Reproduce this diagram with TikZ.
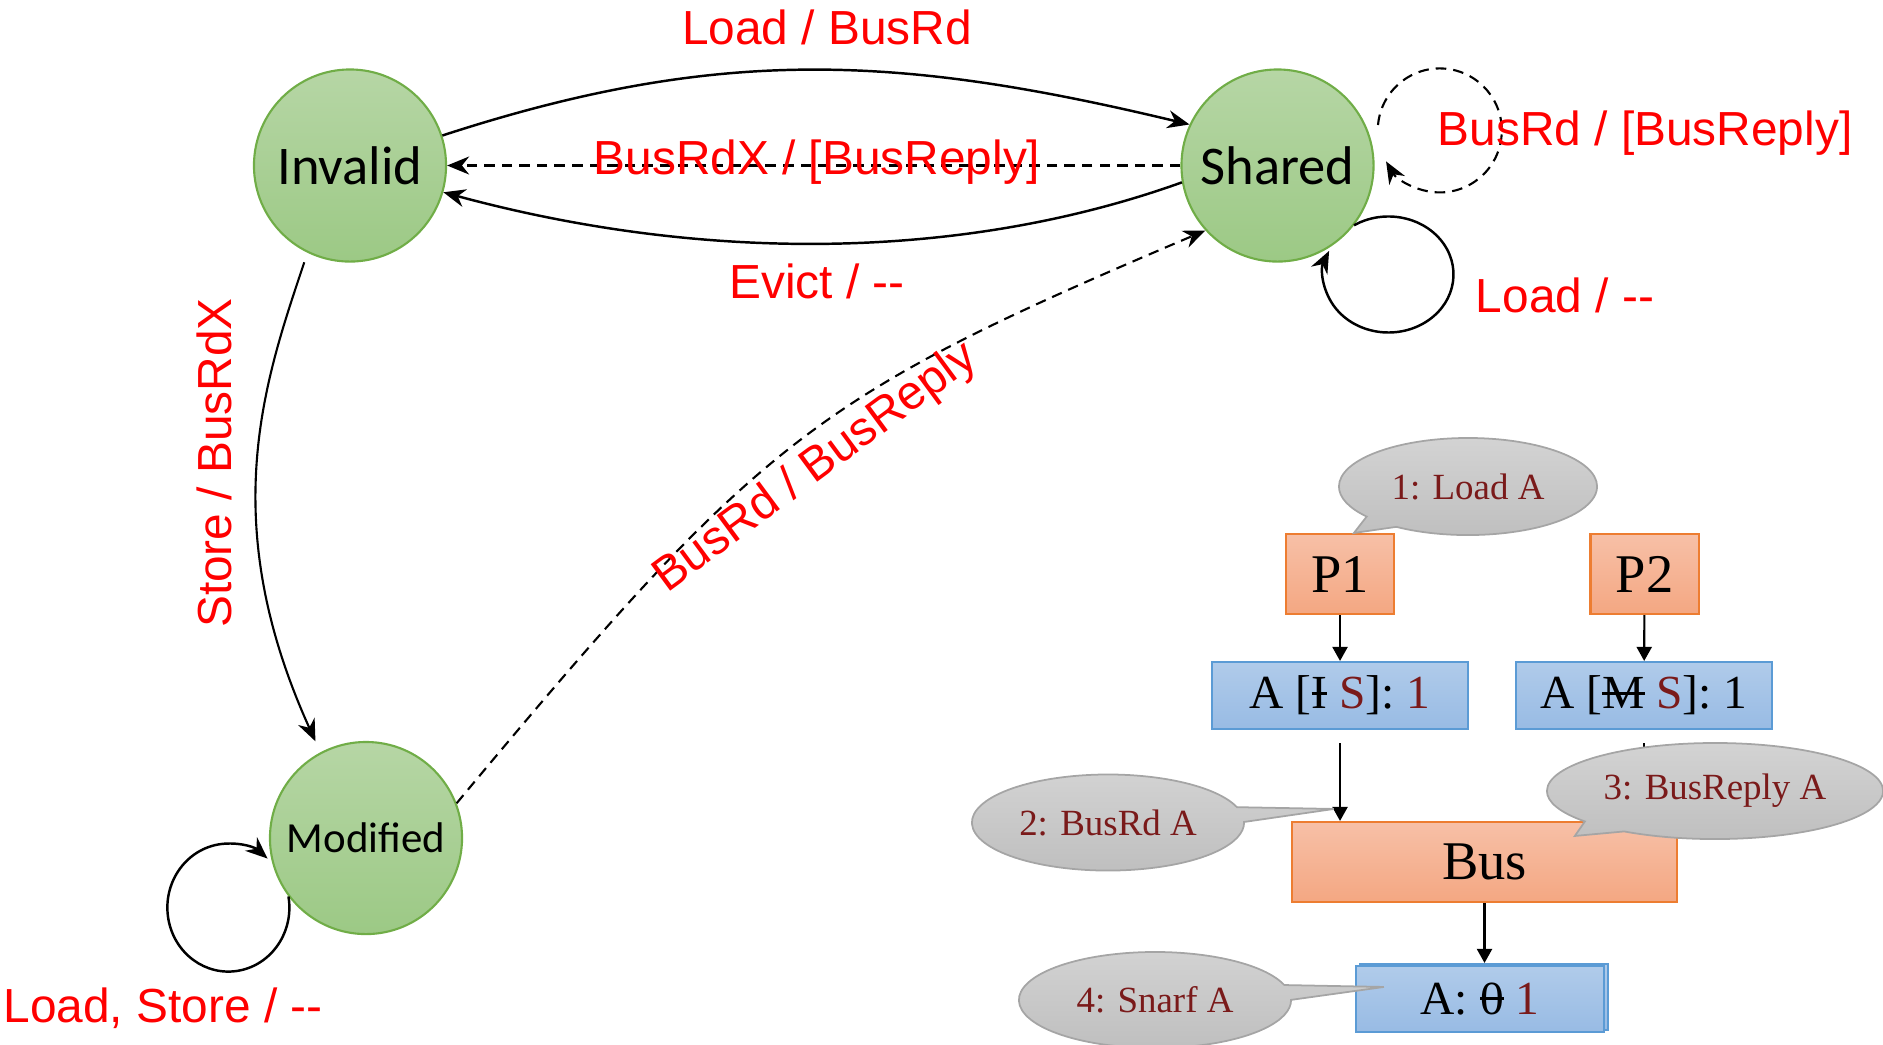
\documentclass[tikz,border=0pt]{standalone}
\usepackage{fontspec}
\setmainfont{Liberation Serif}
\newfontfamily\statefont{Carlito}
\newfontfamily\labelfont{Liberation Sans}
\usetikzlibrary{calc,arrows.meta,shapes.callouts,shapes.geometric}

\definecolor{labelred}{RGB}{255,0,0}
\definecolor{stepred}{RGB}{122,26,26}
\definecolor{greentop}{RGB}{182,214,165}
\definecolor{greenbot}{RGB}{156,201,133}
\definecolor{greenline}{RGB}{112,173,71}
\definecolor{orangetop}{RGB}{247,192,167}
\definecolor{orangebot}{RGB}{244,167,130}
\definecolor{orangeline}{RGB}{237,125,49}
\definecolor{bluetop}{RGB}{176,203,234}
\definecolor{bluebot}{RGB}{152,187,228}
\definecolor{blueline}{RGB}{91,155,213}
\definecolor{graytop}{RGB}{211,211,211}
\definecolor{graybot}{RGB}{190,190,190}
\definecolor{grayline}{RGB}{165,165,165}

% struck-through letter
\newsavebox\strkbox
\newcommand{\strk}[1]{\sbox\strkbox{#1}\rlap{\usebox\strkbox}\rule[0.3em]{\wd\strkbox}{0.06em}}

\tikzset{
  state/.style={circle, draw=greenline, line width=0.6pt, top color=greentop,
    bottom color=greenbot, minimum size=1.92cm, inner sep=0pt,
    font=\statefont\fontsize{15.5}{18}\selectfont},
  trans/.style={line width=0.7pt, -{Stealth[length=2.2mm,width=1.8mm]}},
  snoop/.style={trans, line width=0.6pt, dash pattern=on 3pt off 2pt},
  lbl/.style={text=labelred, font=\labelfont\fontsize{13.6}{16}\selectfont,
    anchor=base, inner sep=0pt},
  box/.style={rectangle, inner sep=0pt, line width=0.6pt},
  cpu/.style={box, draw=orangeline, top color=orangetop, bottom color=orangebot,
    minimum width=1.08cm, minimum height=0.8cm, font=\fontsize{15.5}{18}\selectfont},
  cache/.style={box, draw=blueline, top color=bluetop, bottom color=bluebot,
    minimum width=2.56cm, minimum height=0.67cm, font=\fontsize{13.5}{16}\selectfont},
  wire/.style={line width=0.6pt, -{Triangle[length=1.4mm,width=1.5mm]}},
  note/.style={ellipse callout, draw=grayline, line width=0.5pt, top color=graytop,
    bottom color=graybot, text=stepred, inner sep=0pt, callout pointer arc=18,
    minimum width=2.72cm, minimum height=0.96cm, font=\fontsize{10.5}{12}\selectfont}
}

\begin{document}
\begin{tikzpicture}[x=0.01cm, y=0.01cm]
  \useasboundingbox (0,0) rectangle (1883,-1044);

  % states
  \node[state] (inv) at (350,-165.5) {Invalid};
  \node[state] (sh)  at (1277.5,-165.5) {Shared};
  \node[state, font=\statefont\fontsize{12.2}{15}\selectfont] (mod) at (366,-838) {Modified};

  % transitions between Invalid and Shared
  \draw[trans] (inv.18) .. controls (720,-45) and (900,-55) .. (sh.155);
  \draw[snoop] (sh.west) -- (inv.east);
  \draw[trans] (sh.190) .. controls (960,-262) and (700,-262) .. (inv.-16);

  % self loops
  \draw[snoop] ($(sh.center)+(100.5,40.5)$) arc[start angle=175, end angle=-150, radius=62];
  \draw[trans] (sh.-38) arc[start angle=122, end angle=-204, x radius=65, y radius=58];
  \draw[trans] (mod.-143) arc[start angle=10, end angle=-310, x radius=61, y radius=64];

  % Invalid -> Modified, Modified -> Shared
  \draw[trans, line width=0.6pt, shorten <=0.1cm, shorten >=0.12cm]
    (inv.-116) .. controls (265,-380) and (215,-520) .. (mod.118);
  \draw[snoop] (mod.21) .. controls (764,-434) and (816,-396) .. (sh.-138);

  % transition labels
  \node[lbl] (l1) at (827,-44) {Load / BusRd};
  \node[lbl] (l2) at (817,-174) {BusRdX / [BusReply]};
  \node[lbl] (l3) at (817,-298) {Evict / -{}-};
  \node[lbl] (l4) at (1645,-145) {BusRd / [BusReply]};
  \node[lbl] (l5) at (1565,-312) {Load / -{}-};
  \node[lbl] (l6) at (163,-1022) {Load, Store / -{}-};
  \node[lbl, rotate=90] (l7) at (231,-463) {Store / BusRdX};
  \node[lbl, rotate=36.4, anchor=center] (l8) at (816,-468) {BusRd / BusReply};

  % processors, caches, bus and memory
  \node[cpu] (p1) at (1340,-574) {P1};
  \node[cpu] (p2) at (1644.5,-574) {P2};
  \node[cache] (c1) at (1340,-695.5) {A [\strk{I} \textcolor{stepred}{S}]: \textcolor{stepred}{1}};
  \node[cache] (c2) at (1644,-695.5) {A [\strk{M} \textcolor{stepred}{S}]: 1};
  \node[cpu, minimum width=3.85cm] (bus) at (1484.5,-862) {Bus};
  \node[cache, minimum width=2.48cm, minimum height=0.66cm] (memb) at (1484,-997) {};
  \node[cache, minimum width=2.48cm, minimum height=0.66cm] (mem) at (1480,-999)
    {A: \strk{0} \textcolor{stepred}{1}};

  \draw[wire] (p1) -- (c1);
  \draw[wire] (p2) -- (c2);
  \draw[wire, shorten <=0.13cm] (c1.south) -- (c1.south |- bus.north);
  \draw[wire, shorten <=0.13cm] (c2.south) -- (c2.south |- bus.north);
  \draw[wire] (bus.south) -- (bus.south |- memb.north);

  % numbered steps
  \node[note, minimum width=2.58cm, minimum height=0.97cm,
    callout absolute pointer={($(p1.north west)+(69,0)$)}] (n1) at (1468,-486.5) {1: Load A};
  \node[note, callout absolute pointer={($(bus.north west)+(43,12)$)}] (n2) at (1108,-822.5) {2: BusRd A};
  \node[note, minimum width=3.36cm,
    callout absolute pointer={($(bus.north west)+(284,-15)$)}] (n3) at (1715,-791) {3: BusReply A};
  \node[note, callout absolute pointer={($(mem.north west)+(29,-22)$)}] (n4) at (1155,-1000) {4: Snarf A};
\end{tikzpicture}
\end{document}
